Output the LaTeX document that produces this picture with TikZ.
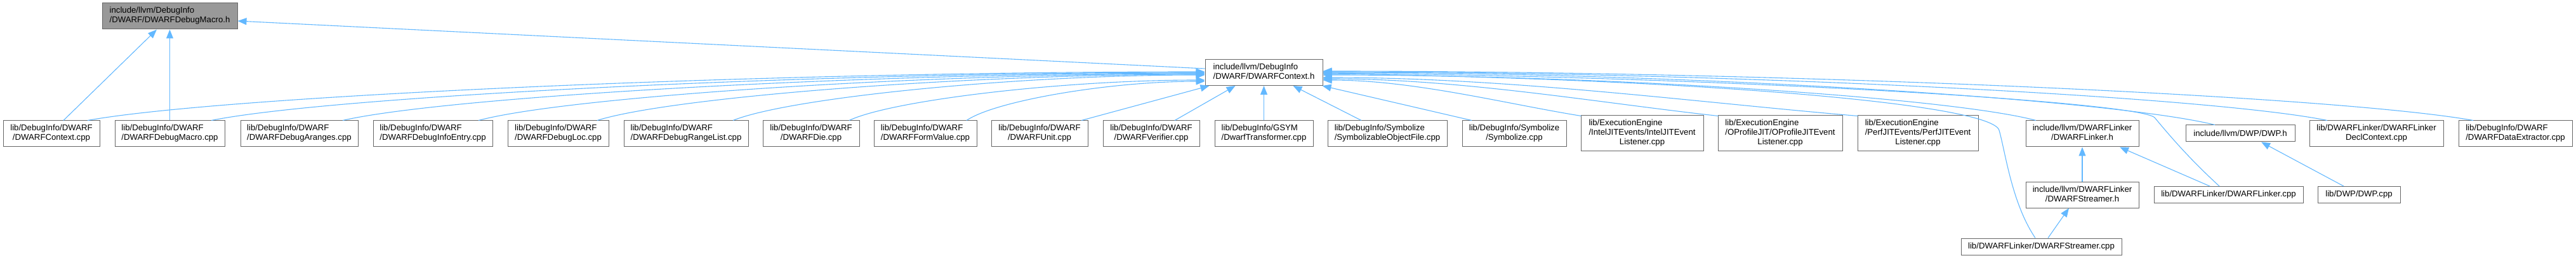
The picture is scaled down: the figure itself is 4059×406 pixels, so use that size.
\documentclass[tikz,border=0pt]{standalone}
\usepackage{fontspec}
\setmainfont{Liberation Sans}
\usetikzlibrary{arrows.meta,calc}
\definecolor{edgeblue}{HTML}{63B8FF}
\definecolor{boxgray}{HTML}{666666}
\definecolor{fillgray}{HTML}{999999}
\newcommand\twoline[2]{\begin{tabular}{@{}l@{}}#1\\\multicolumn{1}{@{}c@{}}{#2}\end{tabular}}
\newcommand\threeline[3]{\begin{tabular}{@{}l@{}}#1\\#2\\\multicolumn{1}{@{}c@{}}{#3}\end{tabular}}
\tikzset{
  box/.style={draw=boxgray, line width=1pt, fill=white, inner sep=0pt, text=black, font=\fontsize{13.2}{15}\selectfont},
  sz/.style 2 args={minimum width=#1pt, minimum height=#2pt},
  dep/.style={draw=edgeblue, line width=1.1pt, -{Triangle[length=14pt,width=11pt]}}
}
% curved dependency: factors a b c, source, target
\newcommand\curvf[5]{\draw[dep] let \p1=(#4), \p2=(#5) in (\p1) .. controls ({\x1+#1*(\x2-\x1)},{\y1+#2*(\y2-\y1)}) and ({\x2-#3*(\x2-\x1)},\y2) .. (\p2);}
\begin{document}
\begin{tikzpicture}[x=1pt,y=-1pt]
\useasboundingbox (0,0) rectangle (4059,406);
% nodes
\node[box, fill=fillgray, sz={213}{41}] (macro_h) at (267.5,25.5) {\twoline{include/llvm/DebugInfo}{/DWARF/DWARFDebugMacro.h}};
\node[box, sz={185}{41}] (ctx_h) at (1991.5,114) {\twoline{include/llvm/DebugInfo}{/DWARF/DWARFContext.h}};
\node[box, sz={152}{41}] (ctx_cpp) at (81,210.5) {\twoline{lib/DebugInfo/DWARF}{/DWARFContext.cpp}};
\node[box, sz={173}{41}] (macro_cpp) at (267.5,210.5) {\twoline{lib/DebugInfo/DWARF}{/DWARFDebugMacro.cpp}};
\node[box, sz={185}{41}] (aranges) at (471.5,210.5) {\twoline{lib/DebugInfo/DWARF}{/DWARFDebugAranges.cpp}};
\node[box, sz={188}{41}] (infoentry) at (682,210.5) {\twoline{lib/DebugInfo/DWARF}{/DWARFDebugInfoEntry.cpp}};
\node[box, sz={159}{41}] (loc) at (879.5,210.5) {\twoline{lib/DebugInfo/DWARF}{/DWARFDebugLoc.cpp}};
\node[box, sz={196}{41}] (rangelist) at (1081,210.5) {\twoline{lib/DebugInfo/DWARF}{/DWARFDebugRangeList.cpp}};
\node[box, sz={152}{41}] (die) at (1278,210.5) {\twoline{lib/DebugInfo/DWARF}{/DWARFDie.cpp}};
\node[box, sz={162}{41}] (formvalue) at (1458,210.5) {\twoline{lib/DebugInfo/DWARF}{/DWARFFormValue.cpp}};
\node[box, sz={152}{41}] (unit) at (1638,210.5) {\twoline{lib/DebugInfo/DWARF}{/DWARFUnit.cpp}};
\node[box, sz={152}{41}] (verifier) at (1814,210.5) {\twoline{lib/DebugInfo/DWARF}{/DWARFVerifier.cpp}};
\node[box, sz={155}{41}] (transformer) at (1991.5,210.5) {\twoline{lib/DebugInfo/GSYM}{/DwarfTransformer.cpp}};
\node[box, sz={188}{41}] (symobj) at (2186,210.5) {\twoline{lib/DebugInfo/Symbolize}{/SymbolizableObjectFile.cpp}};
\node[box, sz={164}{41}] (symbolize) at (2386,210.5) {\twoline{lib/DebugInfo/Symbolize}{/Symbolize.cpp}};
\node[box, sz={193}{56}] (intel) at (2587.5,210) {\threeline{lib/ExecutionEngine}{/IntelJITEvents/IntelJITEvent}{Listener.cpp}};
\node[box, sz={196}{56}] (oprofile) at (2805,210) {\threeline{lib/ExecutionEngine}{/OProfileJIT/OProfileJITEvent}{Listener.cpp}};
\node[box, sz={190}{56}] (perf) at (3022,210) {\threeline{lib/ExecutionEngine}{/PerfJITEvents/PerfJITEvent}{Listener.cpp}};
\node[box, sz={178}{41}] (linker_h) at (3281,210.5) {\twoline{include/llvm/DWARFLinker}{/DWARFLinker.h}};
\node[box, sz={172}{26}] (dwp_h) at (3530,210) {include/llvm/DWP/DWP.h};
\node[box, sz={211}{41}] (declctx) at (3744.5,210.5) {\twoline{lib/DWARFLinker/DWARFLinker}{DeclContext.cpp}};
\node[box, sz={179}{41}] (dataext) at (3963.5,210.5) {\twoline{lib/DebugInfo/DWARF}{/DWARFDataExtractor.cpp}};
\node[box, sz={178}{41}] (streamer_h) at (3281,306.5) {\twoline{include/llvm/DWARFLinker}{/DWARFStreamer.h}};
\node[box, sz={235}{26}] (linker_cpp) at (3511.5,306.5) {lib/DWARFLinker/DWARFLinker.cpp};
\node[box, sz={130}{26}] (dwp_cpp) at (3717,306.5) {lib/DWP/DWP.cpp};
\node[box, sz={253}{26}] (streamer_cpp) at (3216.5,388) {lib/DWARFLinker/DWARFStreamer.cpp};
% edges to DWARFDebugMacro.h
\draw[dep] ($(ctx_h.west)+(0,-6)$) -- ($(macro_h.east)+(0,7.5)$);
\draw[dep] ($(ctx_cpp.north)+(19,0)$) -- ($(macro_h.south)+(-20.5,0)$);
\draw[dep] (macro_cpp.north) -- (macro_h.south);
% edges to DWARFContext.h from the left
\curvf{0.12}{0.5}{0.4}{$(ctx_cpp.north)+(57,0)$}{$(ctx_h.west)+(0,-1)$}
\curvf{0.12}{0.5}{0.4}{$(macro_cpp.north)+(65.5,0)$}{$(ctx_h.west)+(0,0)$}
\curvf{0.12}{0.5}{0.4}{$(aranges.north)+(68.5,0)$}{$(ctx_h.west)+(0,1)$}
\curvf{0.12}{0.5}{0.4}{$(infoentry.north)+(72,0)$}{$(ctx_h.west)+(0,2)$}
\curvf{0.12}{0.5}{0.4}{$(loc.north)+(61.5,0)$}{$(ctx_h.west)+(0,3)$}
\curvf{0.12}{0.5}{0.4}{$(rangelist.north)+(74,0)$}{$(ctx_h.west)+(0,4)$}
\curvf{0.12}{0.5}{0.4}{$(die.north)+(60,0)$}{$(ctx_h.west)+(0,12)$}
\curvf{0.12}{0.5}{0.4}{$(formvalue.north)+(65,0)$}{$(ctx_h.west)+(0,14)$}
\draw[dep] ($(unit.north)+(66,0)$) -- ($(ctx_h.south west)+(7,0)$);
\draw[dep] ($(verifier.north)+(37,0)$) -- ($(ctx_h.south west)+(48,0)$);
\draw[dep] (transformer.north) -- (ctx_h.south);
\draw[dep] ($(symobj.north)+(-41,0)$) -- ($(ctx_h.south)+(46,0)$);
\draw[dep] ($(symbolize.north)+(-67,0)$) -- ($(ctx_h.south east)+(-1,0)$);
% edges to DWARFContext.h from the right
\curvf{0.3}{0.35}{0.35}{$(intel.north west)+(1,1)$}{$(ctx_h.east)+(0,12)$}
\curvf{0.3}{0.35}{0.35}{$(oprofile.north west)+(1,1)$}{$(ctx_h.east)+(0,10)$}
\curvf{0.3}{0.35}{0.35}{$(perf.north west)+(1,1)$}{$(ctx_h.east)+(0,8)$}
\curvf{0.12}{0.5}{0.4}{$(linker_h.north)+(-73,0)$}{$(ctx_h.east)+(0,4)$}
\curvf{0.12}{0.5}{0.4}{$(dwp_h.north)+(-40,0)$}{$(ctx_h.east)+(0,0)$}
\curvf{0.12}{0.5}{0.4}{$(declctx.north)+(-77.5,0)$}{$(ctx_h.east)+(0,-1)$}
\curvf{0.12}{0.5}{0.4}{$(dataext.north)+(-66.5,0)$}{$(ctx_h.east)+(0,-2)$}
\draw[dep] ($(streamer_cpp.north)+(-9.5,0)$) .. controls (3170,320) and (3160,240) .. (3150,205) .. controls (3139,165) and (2700,125) .. ($(ctx_h.east)+(0,2)$);
\draw[dep] ($(linker_cpp.north)+(-14.5,0)$) .. controls (3450,250) and (3420,215) .. (3395,185) .. controls (3370,160) and (2700,120) .. ($(ctx_h.east)+(0,1)$);
% lower edges
\draw[dep] (streamer_h.north) -- (linker_h.south);
\draw[dep] ($(linker_cpp.north)+(-29.5,0)$) -- ($(linker_h.south)+(59,0)$);
\draw[dep] ($(streamer_cpp.north)+(10.5,0)$) -- ($(streamer_h.south)+(-21,0)$);
\draw[dep] ($(dwp_cpp.north)+(-24,0)$) -- ($(dwp_h.south)+(33,0)$);
\end{tikzpicture}
\end{document}
